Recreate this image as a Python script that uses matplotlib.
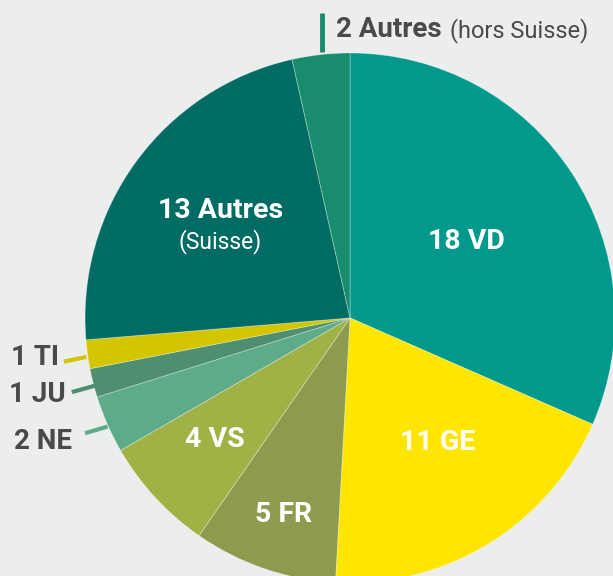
import matplotlib.pyplot as plt

# slices, clockwise from 12 o'clock
counts = [18, 11, 5, 4, 2, 1, 1, 13, 2]
codes = ["VD", "GE", "FR", "VS", "NE", "JU", "TI", "Autres", "Autres"]
colors = ["#00998c", "#ffe600", "#8c9b4d", "#a1b146", "#5eab89", "#4e8f70",
          "#d3c500", "#006c63", "#198c6d"]

bg = "#eceeed"
grey = "#4a4a4a"
font = ["Roboto", "DejaVu Sans"]

fig = plt.figure(figsize=(6.13, 5.76), dpi=100, facecolor=bg)
ax = fig.add_axes([0, 0, 1, 1])
ax.set_facecolor(bg)

wedges, _ = ax.pie(counts, colors=colors, startangle=90, counterclock=False,
                   radius=1.0, center=(0, 0),
                   wedgeprops=dict(edgecolor=(1, 1, 1, 0.35), linewidth=0.6))

ax.set_xlim(-1.321, 0.9925)
ax.set_ylim(-0.974, 1.2)
ax.set_aspect("equal")
ax.axis("off")

# labels inside
inside = {0: (0.44, 0.29), 1: (0.33, -0.47), 2: (-0.25, -0.74), 3: (-0.51, -0.46)}
for i, (x, y) in inside.items():
    ax.text(x, y, f"{counts[i]} {codes[i]}", color="white", fontsize=20.5,
            fontweight="bold", family=font, ha="center", va="center")

ax.text(-0.49, 0.405, f"{counts[7]} Autres", color="white", fontsize=20.5,
        fontweight="bold", family=font, ha="center", va="center")
ax.text(-0.49, 0.29, "(Suisse)", color="white", fontsize=16.5,
        family=font, ha="center", va="center")

# labels outside with small leader lines
outside = [(6, -1.19, -0.15, -1.08, -0.165, -0.995, -0.147),
           (5, -1.18, -0.29, -1.05, -0.28, -0.96, -0.255),
           (4, -1.16, -0.465, -1.0, -0.435, -0.915, -0.41)]
for i, tx, ty, x0, y0, x1, y1 in outside:
    ax.text(tx, ty, f"{counts[i]} {codes[i]}", color=grey, fontsize=20,
            fontweight="bold", family=font, ha="center", va="center")
    ax.plot([x0, x1], [y0, y1], color=colors[i], lw=3, solid_capstyle="butt")

ax.plot([-0.106, -0.106], [1.152, 1.005], color=colors[8], lw=3.5,
        solid_capstyle="butt")
t = ax.text(-0.053, 1.087, f"{counts[8]} Autres", color=grey, fontsize=20,
            fontweight="bold", family=font, ha="left", va="center")
fig.canvas.draw()
bb = t.get_window_extent().transformed(ax.transData.inverted())
ax.text(bb.x1 + 0.03, 1.083, "(hors Suisse)", color=grey, fontsize=17,
        family=font, ha="left", va="center")

fig.savefig("out.png", dpi=100, facecolor=bg)
